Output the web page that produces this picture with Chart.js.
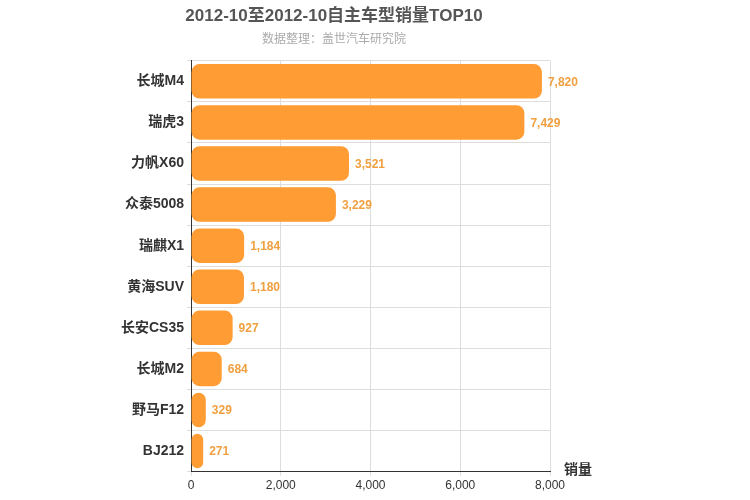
<!DOCTYPE html>
<html>
<head>
<meta charset="utf-8">
<script src="https://cdn.jsdelivr.net/npm/chart.js@4/dist/chart.umd.min.js"></script>
<style>
  html, body { margin: 0; padding: 0; background: #fff; }
</style>
</head>
<body>
<canvas id="chart" width="750" height="500"></canvas>
<script>
    "use strict";

    const models = ["长城M4", "瑞虎3", "力帆X60", "众泰5008", "瑞麒X1", "黄海SUV", "长安CS35", "长城M2", "野马F12", "BJ212"];
    const sales = [7820, 7429, 3521, 3229, 1184, 1180, 927, 684, 329, 271];
    const xTicks = [0, 2000, 4000, 6000, 8000];

    const barColor = "#FF9C33";
    const fontFamily = "Arial, 'Liberation Sans', 'Noto Sans CJK SC', sans-serif";

    // Value labels at bar ends, plus the axis name
    const labelPlugin = {
        id: "labels",
        afterDatasetsDraw(chart) {
            const ctx = chart.ctx;
            const meta = chart.getDatasetMeta(0);
            ctx.save();
            ctx.font = "bold 12px " + fontFamily;
            ctx.fillStyle = "#F0A040";
            ctx.textBaseline = "middle";
            meta.data.forEach((bar, i) => {
                ctx.fillText(sales[i].toLocaleString("en-US"), bar.x + 6, bar.y + 1);
            });
            const x = chart.scales.x;
            ctx.font = "bold 14px " + fontFamily;
            ctx.fillStyle = "#333";
            ctx.fillText("销量", x.right + 14, x.top - 1);
            ctx.restore();
        },
    };

    new Chart(document.getElementById("chart"), {
        type: "bar",
        data: {
            labels: models,
            datasets: [
                {
                    data: sales,
                    backgroundColor: barColor,
                    borderRadius: 8,
                    borderSkipped: false,
                    barPercentage: 0.84,
                    categoryPercentage: 1,
                },
            ],
        },
        options: {
            indexAxis: "y",
            responsive: false,
            animation: false,
            devicePixelRatio: 1,
            layout: { padding: { left: 118, right: 200, top: 0, bottom: 4 } },
            plugins: {
                legend: { display: false },
                tooltip: { enabled: false },
                title: {
                    display: true,
                    text: "2012-10至2012-10自主车型销量TOP10",
                    color: "#555",
                    font: { size: 17, weight: "bold", family: fontFamily },
                    padding: { top: 6, bottom: 6 },
                },
                subtitle: {
                    display: true,
                    text: "数据整理：盖世汽车研究院",
                    color: "#aaa",
                    font: { size: 12, family: fontFamily },
                    padding: { bottom: 14 },
                },
            },
            scales: {
                x: {
                    min: 0,
                    max: 8000,
                    afterBuildTicks: (axis) => {
                        axis.ticks = xTicks.map((v) => ({ value: v }));
                    },
                    ticks: {
                        color: "#333",
                        font: { size: 12, family: fontFamily },
                        callback: (v) => v.toLocaleString("en-US"),
                    },
                    grid: { color: "#ddd", tickLength: 4 },
                    border: { color: "#333" },
                },
                y: {
                    ticks: {
                        color: "#333",
                        font: { size: 14, weight: "bold", family: fontFamily },
                    },
                    grid: { color: "#ddd", offset: true, drawTicks: true, tickLength: 4 },
                    border: { color: "#333" },
                },
            },
        },
        plugins: [labelPlugin],
    });
</script>
</body>
</html>
